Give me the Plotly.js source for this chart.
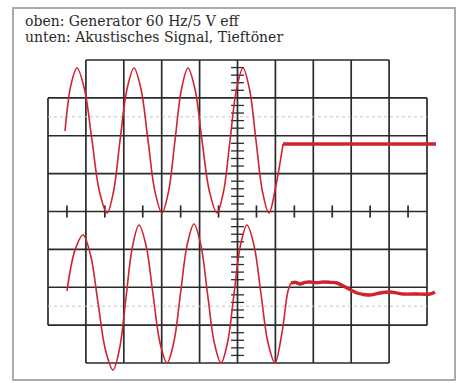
<!DOCTYPE html>
<html>
<head>
<meta charset="utf-8">
<script src="https://cdn.plot.ly/plotly-3.0.1.min.js"></script>
<style>html,body{margin:0;padding:0;background:#fff;}#chart{width:458px;height:383px;}</style>
</head>
<body>
<div id="chart"></div>
<script>
// Units: oscilloscope divisions (x: 0..10 across the graticule, y: -4..4, 0 = centre line)
const titleLines = ["oben: Generator 60 Hz/5 V eff", "unten: Akustisches Signal, Tieftöner"];

// Upper trace: generator signal (thin sine part)
const topSineX = [0.449, 0.607, 0.765, 0.963, 1.161, 1.359, 1.557, 1.728, 1.900, 2.084, 2.269, 2.454, 2.639, 2.823, 3.008, 3.179, 3.351, 3.522, 3.694, 3.879, 4.063, 4.261, 4.459, 4.631, 4.802, 4.974, 5.145, 5.317, 5.488, 5.660, 5.831, 6.016, 6.201];
const topSineY = [2.125, 3.350, 3.789, 3.228, 1.875, 0.522, -0.040, 0.522, 1.875, 3.228, 3.789, 3.228, 1.875, 0.522, -0.040, 0.522, 1.875, 3.228, 3.789, 3.228, 1.875, 0.522, -0.040, 0.522, 1.875, 3.228, 3.789, 3.228, 1.875, 0.522, -0.040, 0.700, 1.782];
// Upper trace: after switch-off (flat, thick)
const topFlatX = [6.201, 10.237];
const topFlatY = [1.782, 1.782];

// Lower trace: acoustic signal, woofer (thin sine part)
const lowSineX = [0.501, 0.712, 0.923, 1.121, 1.319, 1.517, 1.715, 1.887, 2.058, 2.230, 2.401, 2.586, 2.770, 2.955, 3.140, 3.318, 3.496, 3.674, 3.852, 4.030, 4.208, 4.387, 4.565, 4.736, 4.908, 5.079, 5.251, 5.435, 5.620, 5.805, 5.989, 6.174, 6.332, 6.412];
const lowSineY = [-2.099, -1.020, -0.620, -1.142, -2.403, -3.663, -4.185, -3.624, -2.271, -0.917, -0.356, -0.890, -2.178, -3.466, -3.999, -3.462, -2.165, -0.868, -0.330, -0.868, -2.165, -3.462, -4.000, -3.466, -2.178, -0.890, -0.356, -0.890, -2.178, -3.466, -4.000, -3.200, -2.100, -1.888];
// Lower trace: decay (thick)
const lowTailX = [6.412, 6.530, 6.649, 6.780, 6.913, 7.090, 7.256, 7.440, 7.625, 7.760, 7.889, 8.020, 8.153, 8.330, 8.496, 8.630, 8.760, 9.024, 9.200, 9.367, 9.736, 10.079, 10.211];
const lowTailY = [-1.888, -1.870, -1.914, -1.870, -1.861, -1.880, -1.861, -1.870, -1.888, -1.950, -2.020, -2.090, -2.152, -2.190, -2.205, -2.180, -2.152, -2.125, -2.150, -2.178, -2.178, -2.178, -2.125];

// Graticule definition
const majorX = [0,1,2,3,4,5,6,7,8,9,10];
const majorY = [-4,-3,-2,-1,0,1,2,3,4];
const dottedY = [2.5, -2.5];

const red = '#d3222f';
const gridCol = '#2a2a2a';
const shapes = [];
// vertical lines
majorX.forEach(x => {
  const edge = (x === 0 || x === 10);
  shapes.push({type:'line', xref:'x', yref:'y', x0:x, x1:x, y0: edge ? -3 : -4, y1: edge ? 3 : 4,
               line:{color:gridCol, width:1.7}, layer:'below'});
});
// horizontal lines
majorY.forEach(y => {
  const edge = (y === 4 || y === -4);
  shapes.push({type:'line', xref:'x', yref:'y', y0:y, y1:y, x0: edge ? 1 : 0, x1: edge ? 9 : 10,
               line:{color:gridCol, width:1.7}, layer:'below'});
});
// dotted reference lines
dottedY.forEach(y => {
  shapes.push({type:'line', xref:'x', yref:'y', y0:y, y1:y, x0:0, x1:10,
               line:{color:'#c4c4c4', width:1, dash:'dot'}, layer:'below'});
});
// ticks on horizontal centre line (half divisions)
for (let i = 0; i < 10; i++) {
  const x = i + 0.5;
  shapes.push({type:'line', xref:'x', yref:'y', x0:x, x1:x, y0:-0.16, y1:0.16,
               line:{color:gridCol, width:1.7}, layer:'below'});
}
// ticks on vertical centre line (fifths of divisions)
for (let k = -20; k <= 20; k++) {
  if (k % 5 === 0) continue;
  const y = k / 5;
  shapes.push({type:'line', xref:'x', yref:'y', y0:y, y1:y, x0:4.83, x1:5.17,
               line:{color:gridCol, width:1.3}, layer:'below'});
}
// outer frame
shapes.push({type:'rect', xref:'paper', yref:'paper', x0:13/458, x1:455/458, y0:1-380/383, y1:1-8/383,
             line:{color:'#ababab', width:2}, fillcolor:'rgba(0,0,0,0)', layer:'below'});

const traces = [
  {x: topSineX, y: topSineY, mode:'lines', line:{color:red, width:1.6, shape:'spline', smoothing:1}, hoverinfo:'skip'},
  {x: topFlatX, y: topFlatY, mode:'lines', line:{color:red, width:3.6}, hoverinfo:'skip'},
  {x: lowSineX, y: lowSineY, mode:'lines', line:{color:red, width:1.6, shape:'spline', smoothing:1}, hoverinfo:'skip'},
  {x: lowTailX, y: lowTailY, mode:'lines', line:{color:red, width:3.4, shape:'spline', smoothing:0.8}, hoverinfo:'skip'}
];

const layout = {
  width:458, height:383,
  margin:{l:0, r:0, t:0, b:0},
  paper_bgcolor:'#ffffff', plot_bgcolor:'#ffffff',
  showlegend:false,
  xaxis:{range:[-48/37.9, 410/37.9], showgrid:false, zeroline:false, showticklabels:false, ticks:'', showline:false, fixedrange:true},
  yaxis:{range:[(211.5-383)/37.875, 211.5/37.875], showgrid:false, zeroline:false, showticklabels:false, ticks:'', showline:false, fixedrange:true},
  shapes: shapes,
  annotations: [
    {xref:'paper', yref:'paper', x:23/458, y:1-21/383, xanchor:'left', yanchor:'middle', showarrow:false,
     text:titleLines[0], font:{family:'DejaVu Serif, serif', size:14, color:'#2a2a2a'}},
    {xref:'paper', yref:'paper', x:23/458, y:1-37/383, xanchor:'left', yanchor:'middle', showarrow:false,
     text:titleLines[1], font:{family:'DejaVu Serif, serif', size:14, color:'#2a2a2a'}}
  ]
};

Plotly.newPlot('chart', traces, layout, {displayModeBar:false, staticPlot:true});
</script>
</body>
</html>
